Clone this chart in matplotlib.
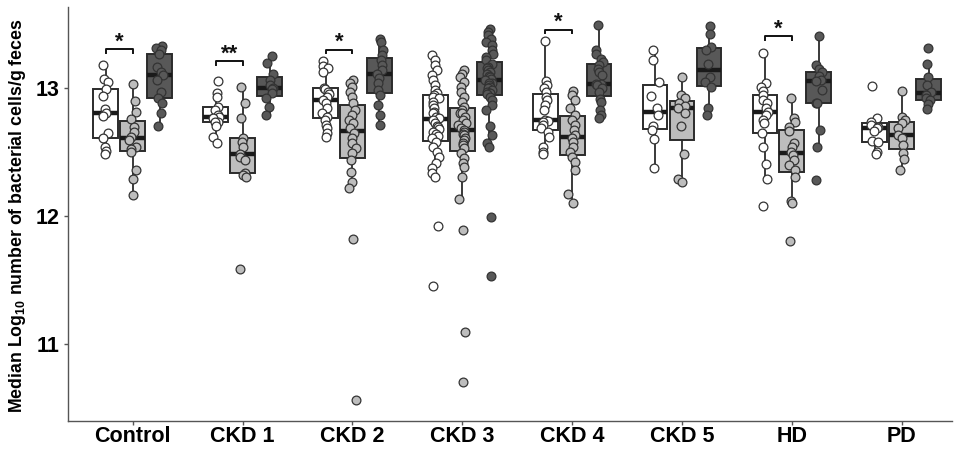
import numpy as np
import matplotlib
matplotlib.use("Agg")
import matplotlib.pyplot as plt

plt.rcParams['font.family'] = ['Liberation Sans', 'DejaVu Sans']
plt.rcParams['mathtext.fontset'] = 'custom'
plt.rcParams['mathtext.rm'] = 'Liberation Sans:bold'
plt.rcParams['mathtext.bf'] = 'Liberation Sans:bold'

groups = ["Control", "CKD 1", "CKD 2", "CKD 3", "CKD 4", "CKD 5", "HD", "PD"]

control_1 = [13.175, 13.066, 13.045, 12.986, 12.936, 12.83, 12.80, 12.78, 12.643, 12.609, 12.539, 12.507, 12.482]
control_2 = [13.025, 12.895, 12.81, 12.755, 12.695, 12.656, 12.617, 12.59, 12.539, 12.52, 12.50, 12.357, 12.29, 12.162]
control_3 = [13.326, 13.31, 13.292, 13.266, 13.162, 13.123, 13.10, 13.058, 12.967, 12.92, 12.877, 12.804, 12.70]

ckd1_1 = [13.05, 12.955, 12.928, 12.85, 12.825, 12.786, 12.772, 12.76, 12.733, 12.73, 12.70, 12.617, 12.57]
ckd1_2 = [13.006, 12.877, 12.76, 12.604, 12.578, 12.539, 12.48, 12.46, 12.435, 12.33, 12.32, 12.305, 11.585]
ckd1_3 = [13.245, 13.193, 13.105, 13.058, 13.02, 13.0, 12.986, 12.96, 12.916, 12.846, 12.786]

ckd2_1 = [13.209, 13.168, 13.15, 13.123, 13.0, 12.99, 12.97, 12.95, 12.928, 12.903, 12.877, 12.838,
          12.8, 12.772, 12.747, 12.708, 12.682, 12.643, 12.617]
ckd2_2 = [13.058, 13.033, 13.002, 12.967, 12.928, 12.877, 12.825, 12.786, 12.747, 12.721, 12.682,
          12.643, 12.604, 12.565, 12.526, 12.487, 12.435, 12.344, 12.266, 12.214, 11.82, 10.557]
ckd2_3 = [13.383, 13.357, 13.292, 13.253, 13.214, 13.175, 13.136, 13.105, 13.072, 13.033, 12.981,
          12.942, 12.864, 12.786, 12.708]

ckd3_1 = [13.253, 13.214, 13.175, 13.136, 13.097, 13.058, 13.019, 12.981, 12.955, 12.942, 12.93,
          12.916, 12.89, 12.864, 12.838, 12.81, 12.799, 12.772, 12.76, 12.747, 12.721, 12.70, 12.695,
          12.68, 12.656, 12.64, 12.62, 12.605, 12.578, 12.539, 12.5, 12.46, 12.409, 12.37, 12.331,
          12.305, 11.92, 11.448]
ckd3_2 = [13.136, 13.11, 13.084, 13.045, 13.006, 12.967, 12.928, 12.89, 12.85, 12.825, 12.80, 12.799,
          12.772, 12.747, 12.72, 12.708, 12.682, 12.67, 12.656, 12.64, 12.63, 12.604, 12.59, 12.565,
          12.55, 12.526, 12.487, 12.448, 12.409, 12.383, 12.305, 12.13, 11.89, 11.094, 10.697]
ckd3_3 = [13.461, 13.435, 13.409, 13.383, 13.357, 13.331, 13.292, 13.266, 13.24, 13.214, 13.188,
          13.162, 13.15, 13.136, 13.12, 13.11, 13.09, 13.084, 13.07, 13.058, 13.04, 13.033, 13.02,
          13.006, 13.0, 12.981, 12.97, 12.955, 12.95, 12.928, 12.903, 12.864, 12.825, 12.70, 12.63,
          12.565, 12.539, 11.993, 11.525]

ckd4_1 = [13.362, 13.05, 13.019, 12.994, 12.967, 12.928, 12.903, 12.864, 12.825, 12.745, 12.74,
          12.733, 12.708, 12.682, 12.656, 12.617, 12.539, 12.5, 12.482]
ckd4_2 = [12.975, 12.942, 12.903, 12.838, 12.786, 12.747, 12.708, 12.669, 12.63, 12.604, 12.578,
          12.539, 12.5, 12.46, 12.422, 12.357, 12.17, 12.10]
ckd4_3 = [13.487, 13.292, 13.261, 13.227, 13.201, 13.175, 13.149, 13.123, 13.097, 13.03, 13.027,
          13.019, 12.994, 12.967, 12.91, 12.89, 12.825, 12.786, 12.76]

ckd5_1 = [13.292, 13.214, 13.045, 12.936, 12.838, 12.786, 12.70, 12.669, 12.597, 12.375]
ckd5_2 = [13.08, 12.942, 12.916, 12.88, 12.86, 12.84, 12.799, 12.70, 12.48, 12.29, 12.266]
ckd5_3 = [13.479, 13.422, 13.318, 13.292, 13.188, 13.084, 13.045, 13.002, 12.838, 12.786]

hd_1 = [13.274, 13.037, 13.002, 12.977, 12.942, 12.903, 12.877, 12.838, 12.812, 12.786, 12.75,
        12.721, 12.643, 12.539, 12.4, 12.29, 12.079]
hd_2 = [12.92, 12.76, 12.733, 12.69, 12.66, 12.565, 12.539, 12.5, 12.474, 12.435, 12.396, 12.357,
        12.305, 12.118, 12.102, 11.798]
hd_3 = [13.401, 13.175, 13.149, 13.123, 13.09, 13.058, 13.05, 12.981, 12.88, 12.877, 12.669,
        12.539, 12.279]

pd_1 = [13.014, 12.76, 12.733, 12.708, 12.695, 12.682, 12.66, 12.58, 12.578, 12.5, 12.482]
pd_2 = [12.973, 12.772, 12.747, 12.721, 12.682, 12.63, 12.604, 12.552, 12.487, 12.44, 12.357]
pd_3 = [13.313, 13.188, 13.08, 13.019, 12.967, 12.942, 12.916, 12.903, 12.871, 12.832]

series = [
    [control_1, control_2, control_3],
    [ckd1_1, ckd1_2, ckd1_3],
    [ckd2_1, ckd2_2, ckd2_3],
    [ckd3_1, ckd3_2, ckd3_3],
    [ckd4_1, ckd4_2, ckd4_3],
    [ckd5_1, ckd5_2, ckd5_3],
    [hd_1, hd_2, hd_3],
    [pd_1, pd_2, pd_3],
]

# significance brackets: (group index, bracket height, label)
sig_groups = [0, 1, 2, 4, 6]
sig_heights = [13.30, 13.207, 13.298, 13.454, 13.40]
sig_labels = ["*", "**", "*", "*", "*"]

fills = ["#ffffff", "#bdbdbd", "#585858"]
offsets = [-0.245, 0.0, 0.245]
box_w = 0.225

fig = plt.figure(figsize=(9.57, 4.49), dpi=100)
ax = fig.add_axes([0.071, 0.0624, 0.924, 0.9216])

rng = np.random.default_rng(3)
for gi, trio in enumerate(series):
    for si, vals in enumerate(trio):
        pos = gi + offsets[si]
        bp = ax.boxplot([vals], positions=[pos], widths=box_w, patch_artist=True,
                        showfliers=False, showcaps=False, whis=1.5,
                        boxprops=dict(facecolor=fills[si], edgecolor="#2b2b2b", linewidth=1.4),
                        whiskerprops=dict(color="#2b2b2b", linewidth=1.3),
                        medianprops=dict(color="#1a1a1a", linewidth=3.2),
                        zorder=2)
        jit = rng.uniform(-0.035, 0.035, size=len(vals))
        ax.scatter(pos + jit, vals, s=40, facecolor=fills[si], edgecolor="#333333",
                   linewidth=0.9, zorder=3)

for g, h, lab in zip(sig_groups, sig_heights, sig_labels):
    x0 = g + offsets[0]
    x1 = g + offsets[1]
    d = 0.03
    ax.plot([x0, x0, x1, x1], [h - d, h, h, h - d], color="#111111", linewidth=1.4, zorder=4)
    ax.text((x0 + x1) / 2, h - 0.025, lab, ha="center", va="bottom", fontsize=16,
            fontweight="bold", color="#111111")

ax.set_xlim(-0.59, 7.46)
ax.set_ylim(10.395, 13.629)
ax.set_xticks(range(len(groups)))
ax.set_xticklabels(groups, fontsize=15.5, fontweight="bold")
ax.set_yticks([11, 12, 13])
ax.set_yticklabels(["11", "12", "13"], fontsize=15.5, fontweight="bold")
for s in ["top", "right"]:
    ax.spines[s].set_visible(False)
for s in ["left", "bottom"]:
    ax.spines[s].set_color("#555555")
    ax.spines[s].set_linewidth(1.0)
ax.tick_params(axis="both", colors="#555555", length=3, width=1, labelcolor="black")
ax.tick_params(axis="x", pad=0.5)
ax.tick_params(axis="y", pad=3)
ax.set_ylabel(r"Median Log$_{10}$ number of bacterial cells/g feces", fontsize=12.8,
              fontweight="bold")
ax.yaxis.set_label_coords(-0.045, 0.495)

fig.savefig("out.png", dpi=100)
